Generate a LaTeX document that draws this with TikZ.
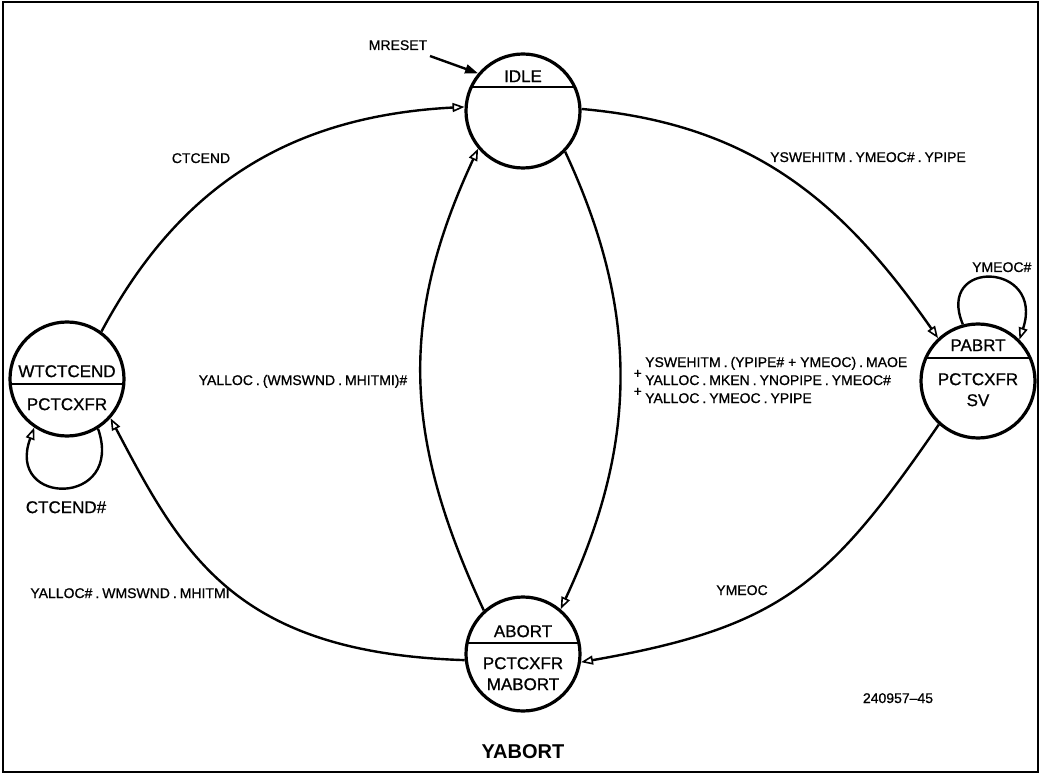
\documentclass[tikz,border=0pt]{standalone}
\usepackage{fontspec}
\setmainfont{Liberation Sans}
\newfontfamily\lblfont{Liberation Sans}[FakeBold=0.8]
\usetikzlibrary{arrows.meta,calc}
\newcommand\pdot{\hspace{3pt}.\hspace{3pt}}
\begin{document}
\begin{tikzpicture}[x=1pt,y=-1pt,
  stnode/.style={circle,draw,line width=3.2pt,minimum size=114pt,inner sep=0pt},
  stext/.style={inner sep=0pt,text height=12.2pt,text depth=0pt,font=\lblfont\fontsize{17}{17}\selectfont},
  elabel/.style={inner sep=0pt,text height=10pt,text depth=0pt,font=\lblfont\fontsize{14}{14}\selectfont},
  chord/.style={line width=1.8pt},
  trans/.style={line width=2.4pt,-{Triangle[open,length=12pt,width=9pt,line width=1.6pt]}},
  reset/.style={line width=2.4pt,-{Triangle[length=13pt,width=9pt]}},
]
\useasboundingbox (0,0) rectangle (1041,775);
\draw[line width=2pt] (3,2) rectangle (1038,772);

% states
\node[stnode] (idle)  at (523,111) {};
\node[stnode] (abort) at (523,654) {};
\node[stnode] (pabrt) at (978,381) {};
\node[stnode] (wtc)   at (67,379) {};

% state texts and dividing lines
\node[stext] (idleT) at (523,76) {IDLE};
\draw[chord] ($(idle.center)+(-51.7,-24)$) -- ($(idle.center)+(51.7,-24)$);

\node[stext] (abortT) at (523,631) {ABORT};
\draw[chord] ($(abort.center)+(-55.9,-11)$) -- ($(abort.center)+(55.9,-11)$);
\node[stext] (abortA) at (523,663) {PCTCXFR};
\node[stext] (abortB) at (523,684) {MABORT};

\node[stext] (pabrtT) at (978,345) {PABRT};
\draw[chord] ($(pabrt.center)+(-52.2,-23)$) -- ($(pabrt.center)+(52.2,-23)$);
\node[stext] (pabrtA) at (978,379) {PCTCXFR};
\node[stext] (pabrtB) at (978,400) {SV};

\node[stext] (wtcT) at (67,371) {WTCTCEND};
\draw[chord] ($(wtc.center)+(-56.8,5)$) -- ($(wtc.center)+(56.8,5)$);
\node[stext] (wtcA) at (67,404) {PCTCXFR};

% reset arrow
\node[elabel] (mreset) at (398,45) {MRESET};
\coordinate (mrs) at (430,56);
\draw[reset] (mrs) -- (idle.140);

% transitions
\draw[trans] (wtc.54) .. controls +(80,-150) and +(-170,9) .. (idle.176);
\node[elabel] (lctcend) at (201,158) {CTCEND};

\draw[trans] (idle.2) .. controls +(169,15) and +(-97,-139) .. (pabrt.133);
\node[elabel,anchor=west] (lysw) at (770,157) {YSWEHITM\pdot YMEOC\#\pdot YPIPE};

\draw[trans] (pabrt.105) .. controls (935,258) and (1045,262) .. (pabrt.45);
\node[elabel,anchor=west] (lymeocs) at (972,267) {YMEOC\#};

\draw[trans] (pabrt.228) .. controls +(-110,160) and +(200,-35) .. (abort.352);
\node[elabel] (lymeoc) at (742,590) {YMEOC};

\draw[trans] (idle.316) .. controls +(76,163) and +(76,-163) .. (abort.50);
\node[elabel,anchor=west] (lbig1) at (645,362) {YSWEHITM\pdot (YPIPE\# + YMEOC)\pdot MAOE};
\node[elabel,anchor=west] (lbig2) at (645,380) {YALLOC\pdot MKEN\pdot YNOPIPE\pdot YMEOC\#};
\node[elabel,anchor=west] (lbig3) at (645,398) {YALLOC\pdot YMEOC\pdot YPIPE};
\node[elabel,anchor=east] (plus1) at (642,373) {+};
\node[elabel,anchor=east] (plus2) at (642,391) {+};

\draw[trans] (abort.132) .. controls +(-80,-172) and +(-80,172) .. (idle.220);
\node[elabel] (lyalloc) at (303,380) {YALLOC\pdot(WMSWND\pdot MHITMI)\#};

\draw[trans] (abort.186) .. controls (236,653) and (183,556) .. (wtc.318);
\node[elabel] (lyallocn) at (130,593) {YALLOC\#\pdot WMSWND\pdot MHITMI};

\draw[trans] (wtc.302) .. controls (125,507) and (5,507) .. (wtc.236);
\node[stext] (lctcendn) at (66,507) {CTCEND\#};

% captions
\node[elabel] (fig) at (898,698) {240957–45};
\node[inner sep=0pt,font=\fontsize{20}{20}\selectfont\bfseries] (title) at (523,752) {YABORT};
\end{tikzpicture}
\end{document}
